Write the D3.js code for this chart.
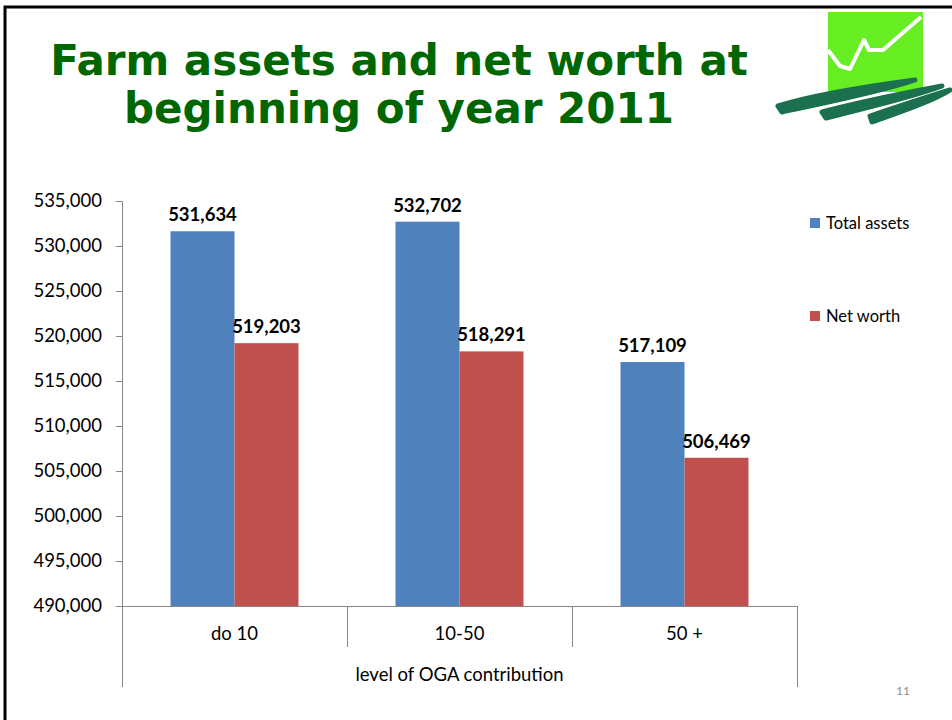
<!DOCTYPE html>
<html>
<head>
<meta charset="utf-8">
<script src="https://cdn.jsdelivr.net/npm/d3@7"></script>
<style>
  body { margin: 0; background: #fff; }
  svg { display: block; }
</style>
</head>
<body>
<div id="chart"></div>
<script>
'use strict';

var categories = ['do 10', '10-50', '50 +'];
var seriesNames = ['Total assets', 'Net worth'];
var totalAssets = [531634, 532702, 517109];
var netWorth = [519203, 518291, 506469];
var yTicks = [490000, 495000, 500000, 505000, 510000, 515000, 520000, 525000, 530000, 535000];
var colors = ['#4f81bd', '#c0504d'];

var W = 952, H = 720;
var plot = { left: 122, right: 797, top: 201, bottom: 606 };
var labelFont = 'Lato, "Open Sans", sans-serif';

var svg = d3.select('#chart').append('svg')
  .attr('width', W)
  .attr('height', H);

// slide frame
svg.append('path')
  .attr('d', 'M5,720 L5,7 L952,7')
  .attr('fill', 'none')
  .attr('stroke', '#000')
  .attr('stroke-width', 3);

// title
var title = svg.append('text')
  .attr('text-anchor', 'middle')
  .attr('font-family', '"DejaVu Sans", Verdana, sans-serif')
  .attr('font-weight', 'bold')
  .attr('font-size', 42)
  .attr('fill', '#006600');
title.append('tspan').attr('x', 399).attr('y', 75).text('Farm assets and net worth at');
title.append('tspan').attr('x', 399).attr('y', 123).text('beginning of year 2011');

// logo
var logo = svg.append('g').attr('transform', 'translate(770,0)');
logo.append('rect')
  .attr('x', 58).attr('y', 12).attr('width', 95).attr('height', 80)
  .attr('fill', '#66ee22');
logo.append('path')
  .attr('d', 'M58,50 L70,66 L80,69 L94,40 L99,50 L113,50 L151,17')
  .attr('fill', 'none')
  .attr('stroke', '#fff')
  .attr('stroke-width', 4)
  .attr('stroke-linejoin', 'round');
var strokes = [
  'M8,106 C40,96 100,86 145,80 C110,92 50,104 12,112 Z',
  'M52,112 C90,102 140,92 172,86 C140,98 95,108 56,118 Z',
  'M100,116 C130,106 160,96 180,90 C160,102 130,112 102,122 Z'
];
logo.selectAll('path.brush')
  .data(strokes)
  .enter().append('path')
  .attr('class', 'brush')
  .attr('d', function(d) { return d; })
  .attr('fill', '#1b7050')
  .attr('stroke', '#1b7050')
  .attr('stroke-width', 5)
  .attr('stroke-linejoin', 'round');

// scales
var x0 = d3.scaleBand()
  .domain(categories)
  .range([plot.left, plot.right]);

var x1 = d3.scaleBand()
  .domain(seriesNames)
  .range([0, x0.bandwidth()])
  .paddingOuter(0.758)
  .paddingInner(0);

var y = d3.scaleLinear()
  .domain([490000, 535000])
  .range([plot.bottom, plot.top]);

var fmt = d3.format(',');

// y axis
var yAxis = svg.append('g')
  .attr('transform', 'translate(' + plot.left + ',0)')
  .call(d3.axisLeft(y).tickValues(yTicks).tickFormat(fmt).tickSize(6).tickPadding(14));
yAxis.select('.domain').attr('stroke', '#868686');
yAxis.selectAll('.tick line').attr('stroke', '#868686');
yAxis.selectAll('.tick text')
  .attr('font-family', labelFont)
  .attr('font-size', 18.5)
  .attr('fill', '#000');

// x axis baseline + category dividers
var axisCol = '#868686';
svg.append('line')
  .attr('x1', plot.left).attr('x2', plot.right)
  .attr('y1', plot.bottom + 0.5).attr('y2', plot.bottom + 0.5)
  .attr('stroke', axisCol);

var edges = categories.map(function(c) { return x0(c); }).concat([plot.right]);
svg.selectAll('line.divider')
  .data(edges)
  .enter().append('line')
  .attr('class', 'divider')
  .attr('x1', function(d) { return Math.round(d) + 0.5; })
  .attr('x2', function(d) { return Math.round(d) + 0.5; })
  .attr('y1', plot.bottom)
  .attr('y2', function(d, i) { return (i === 0 || i === edges.length - 1) ? 687 : 647; })
  .attr('stroke', axisCol);

svg.selectAll('text.cat')
  .data(categories)
  .enter().append('text')
  .attr('class', 'cat')
  .attr('x', function(d) { return x0(d) + x0.bandwidth() / 2; })
  .attr('y', 640)
  .attr('text-anchor', 'middle')
  .attr('font-family', labelFont)
  .attr('font-size', 18.5)
  .attr('fill', '#000')
  .text(function(d) { return d; });

svg.append('text')
  .attr('x', (plot.left + plot.right) / 2)
  .attr('y', 681)
  .attr('text-anchor', 'middle')
  .attr('font-family', labelFont)
  .attr('font-size', 18.5)
  .attr('fill', '#000')
  .text('level of OGA contribution');

// bars
var data = categories.map(function(c, i) {
  return { cat: c, values: [
    { key: seriesNames[0], value: totalAssets[i] },
    { key: seriesNames[1], value: netWorth[i] }
  ] };
});

var groups = svg.append('g')
  .selectAll('g')
  .data(data)
  .enter().append('g')
  .attr('transform', function(d) { return 'translate(' + x0(d.cat) + ',0)'; });

groups.selectAll('rect')
  .data(function(d) { return d.values; })
  .enter().append('rect')
  .attr('x', function(d) { return x1(d.key); })
  .attr('y', function(d) { return y(d.value); })
  .attr('width', x1.bandwidth())
  .attr('height', function(d) { return plot.bottom - y(d.value); })
  .attr('fill', function(d, i) { return colors[i]; });

groups.selectAll('text')
  .data(function(d) { return d.values; })
  .enter().append('text')
  .attr('x', function(d) { return x1(d.key) + x1.bandwidth() / 2; })
  .attr('y', function(d) { return y(d.value) - 10; })
  .attr('text-anchor', 'middle')
  .attr('font-family', labelFont)
  .attr('font-weight', 'bold')
  .attr('font-size', 18.5)
  .attr('fill', '#000')
  .text(function(d) { return fmt(d.value); });

// legend
var legend = svg.append('g')
  .selectAll('g')
  .data(seriesNames)
  .enter().append('g')
  .attr('transform', function(d, i) { return 'translate(810,' + (218 + i * 93) + ')'; });

legend.append('rect')
  .attr('width', 10)
  .attr('height', 10)
  .attr('fill', function(d, i) { return colors[i]; });

legend.append('text')
  .attr('x', 16)
  .attr('y', 5)
  .attr('dy', '0.35em')
  .attr('font-family', labelFont)
  .attr('font-size', 16.5)
  .attr('fill', '#000')
  .text(function(d) { return d; });

// page number
svg.append('text')
  .attr('x', 903)
  .attr('y', 695)
  .attr('text-anchor', 'middle')
  .attr('font-family', labelFont)
  .attr('font-size', 12)
  .attr('fill', '#8c8c8c')
  .text('11');
</script>
</body>
</html>
